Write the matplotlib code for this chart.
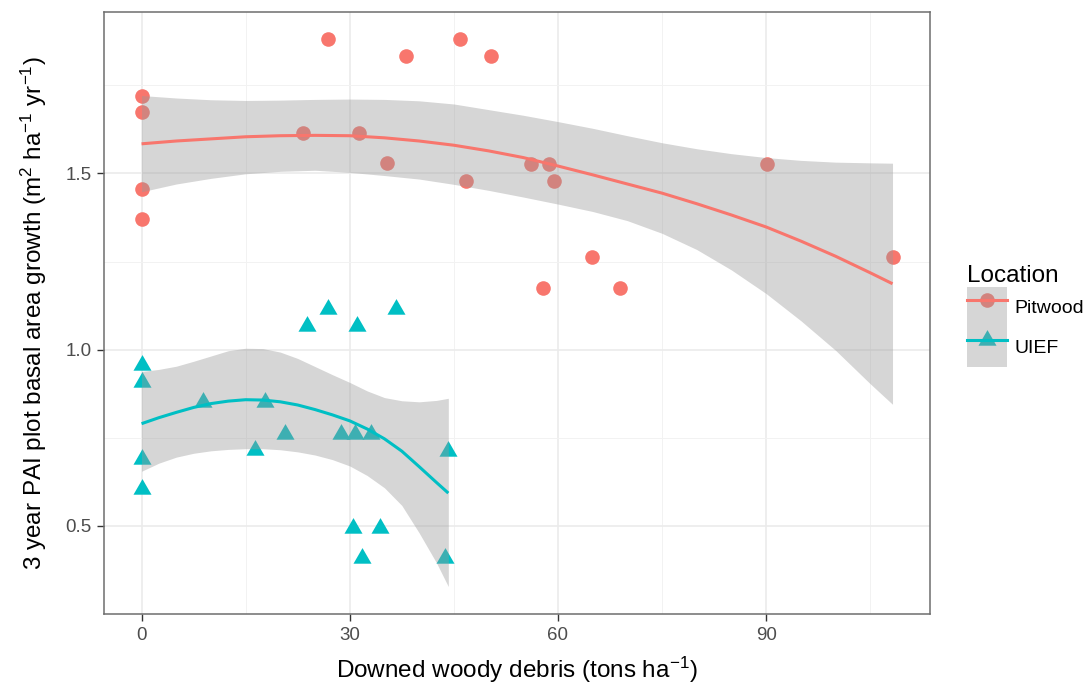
import numpy as np
import matplotlib; matplotlib.use('Agg')
import matplotlib.pyplot as plt
from matplotlib.lines import Line2D
from matplotlib.patches import Patch
from matplotlib.path import Path
from matplotlib.legend_handler import HandlerTuple

plt.rcParams['font.family'] = ['Liberation Sans', 'DejaVu Sans']
plt.rcParams['mathtext.fontset'] = 'custom'
plt.rcParams['mathtext.rm'] = 'Liberation Sans'
plt.rcParams['mathtext.it'] = 'Liberation Sans:italic'

# ---- data ----
pit_x = [0, 0, 0, 0, 23.2, 26.8, 31.4, 35.3, 38.1, 45.9, 46.7, 50.3,
         56.1, 57.8, 58.7, 59.4, 64.9, 68.9, 90.1, 108.2]
pit_y = [1.721, 1.675, 1.456, 1.370, 1.615, 1.880, 1.615, 1.530, 1.832, 1.880, 1.479, 1.832,
         1.527, 1.174, 1.527, 1.479, 1.262, 1.174, 1.527, 1.262]

uief_x = [0, 0, 0, 0, 8.9, 16.4, 17.8, 20.6, 23.8, 26.8, 28.7, 30.5,
          30.7, 31.1, 31.8, 33.0, 34.4, 36.6, 43.7, 44.2]
uief_y = [0.957, 0.907, 0.689, 0.604, 0.851, 0.715, 0.851, 0.762, 1.068, 1.115, 0.762, 0.493,
          0.762, 1.068, 0.408, 0.762, 0.493, 1.115, 0.408, 0.713]

# smoother (geom_smooth) curves and confidence bands, read at fixed x
pit_fit_x = [0, 5, 10, 15, 20, 25, 30, 35, 40, 45, 50, 55, 60, 65, 70, 75, 80, 85, 90, 95, 100, 105, 108.2]
pit_fit = [1.584, 1.592, 1.598, 1.604, 1.607, 1.608, 1.607, 1.601, 1.592, 1.580, 1.564, 1.545,
           1.521, 1.496, 1.470, 1.444, 1.414, 1.382, 1.348, 1.308, 1.265, 1.218, 1.187]
pit_upr = [1.721, 1.714, 1.709, 1.707, 1.708, 1.710, 1.711, 1.710, 1.706, 1.697, 1.681, 1.665,
           1.647, 1.628, 1.607, 1.587, 1.570, 1.556, 1.545, 1.537, 1.532, 1.530, 1.529]
pit_lwr = [1.448, 1.470, 1.486, 1.499, 1.506, 1.509, 1.503, 1.494, 1.484, 1.469, 1.452, 1.433,
           1.413, 1.392, 1.366, 1.330, 1.284, 1.226, 1.159, 1.082, 0.998, 0.903, 0.845]

uief_fit_x = [0, 2.5, 5, 7.5, 10, 12.5, 15, 17.5, 20, 22.5, 25, 27.5, 30, 32.5, 35, 37.5, 40, 42.5, 44.2]
uief_fit = [0.790, 0.807, 0.822, 0.836, 0.847, 0.854, 0.858, 0.857, 0.852, 0.843, 0.830, 0.815,
            0.798, 0.775, 0.747, 0.712, 0.668, 0.623, 0.593]
uief_upr = [0.938, 0.944, 0.953, 0.967, 0.982, 0.997, 1.004, 1.003, 0.993, 0.975, 0.952, 0.929,
            0.907, 0.883, 0.864, 0.855, 0.852, 0.856, 0.862]
uief_lwr = [0.655, 0.678, 0.695, 0.706, 0.713, 0.717, 0.719, 0.719, 0.716, 0.710, 0.701, 0.688,
            0.670, 0.643, 0.608, 0.558, 0.480, 0.395, 0.328]

PIT_COL = '#F8766D'
UIEF_COL = '#00BFC4'
RIB_COL = '#999999'

# R-style filled triangle centred on its centroid
tri = Path([(0, 1), (-0.866, -0.5), (0.866, -0.5), (0, 1)],
           [Path.MOVETO, Path.LINETO, Path.LINETO, Path.CLOSEPOLY])

fig = plt.figure(figsize=(10.88, 6.88), dpi=100)
ax = fig.add_axes([104/1088, 1 - 614/688, (930 - 104)/1088, (614 - 12)/688])

ax.plot(pit_x, pit_y, 'o', ms=10.5, color=PIT_COL, mec='none', zorder=2)
ax.plot(uief_x, uief_y, ls='none', marker=tri, ms=15, color=UIEF_COL, mec='none', zorder=2)

ax.fill_between(pit_fit_x, pit_lwr, pit_upr, color=RIB_COL, alpha=0.4, lw=0, zorder=3)
ax.fill_between(uief_fit_x, uief_lwr, uief_upr, color=RIB_COL, alpha=0.4, lw=0, zorder=3)
ax.plot(pit_fit_x, pit_fit, color=PIT_COL, lw=2.2, zorder=4, solid_capstyle='butt')
ax.plot(uief_fit_x, uief_fit, color=UIEF_COL, lw=2.2, zorder=4, solid_capstyle='butt')

ax.set_xlim(-5.41, 113.6)
ax.set_ylim(0.25, 1.958)
ax.set_xticks([0, 30, 60, 90])
ax.set_xticks([15, 45, 75, 105], minor=True)
ax.set_yticks([0.5, 1.0, 1.5])
ax.set_yticklabels(['0.5', '1.0', '1.5'])
ax.set_yticks([0.75, 1.25, 1.75], minor=True)

ax.grid(which='major', color='#EBEBEB', lw=1.2, zorder=0)
ax.grid(which='minor', color='#F2F2F2', lw=0.7, zorder=0)
ax.set_axisbelow(True)
for s in ax.spines.values():
    s.set_color('#6E6E6E')
    s.set_linewidth(1.1)
ax.tick_params(which='major', length=5, width=1, color='#333333', labelcolor='#4D4D4D',
               labelsize=13.5, pad=4)
ax.tick_params(which='minor', length=0)

ax.set_xlabel('Downed woody debris (tons ha$^{-1}$)', fontsize=17.5, labelpad=8)
ax.set_ylabel('3 year PAI plot basal area growth (m$^{2}$ ha$^{-1}$ yr$^{-1}$)', fontsize=17.5, labelpad=12)

# legend: key = ribbon background + point + line
rib = Patch(facecolor=RIB_COL, alpha=0.4, edgecolor='none')
h_pit = (Line2D([], [], ls='none', marker='o', ms=10.5, color=PIT_COL, mec='none'),
         rib, Line2D([], [], color=PIT_COL, lw=2.2))
h_uief = (Line2D([], [], ls='none', marker=tri, ms=15, color=UIEF_COL, mec='none'),
          rib, Line2D([], [], color=UIEF_COL, lw=2.2))
leg = fig.legend([h_pit, h_uief], ['Pitwood', 'UIEF'],
                 handler_map={tuple: HandlerTuple(ndivide=1, pad=0)},
                 title='Location', loc='center left', bbox_to_anchor=(967/1088, 1 - 316/688),
                 frameon=False, fontsize=14, title_fontsize=17.5, borderpad=0, borderaxespad=0,
                 handlelength=2.06, handleheight=2.79, labelspacing=0, handletextpad=0.4,
                 alignment='left')

fig.savefig('out.png', dpi=100)
